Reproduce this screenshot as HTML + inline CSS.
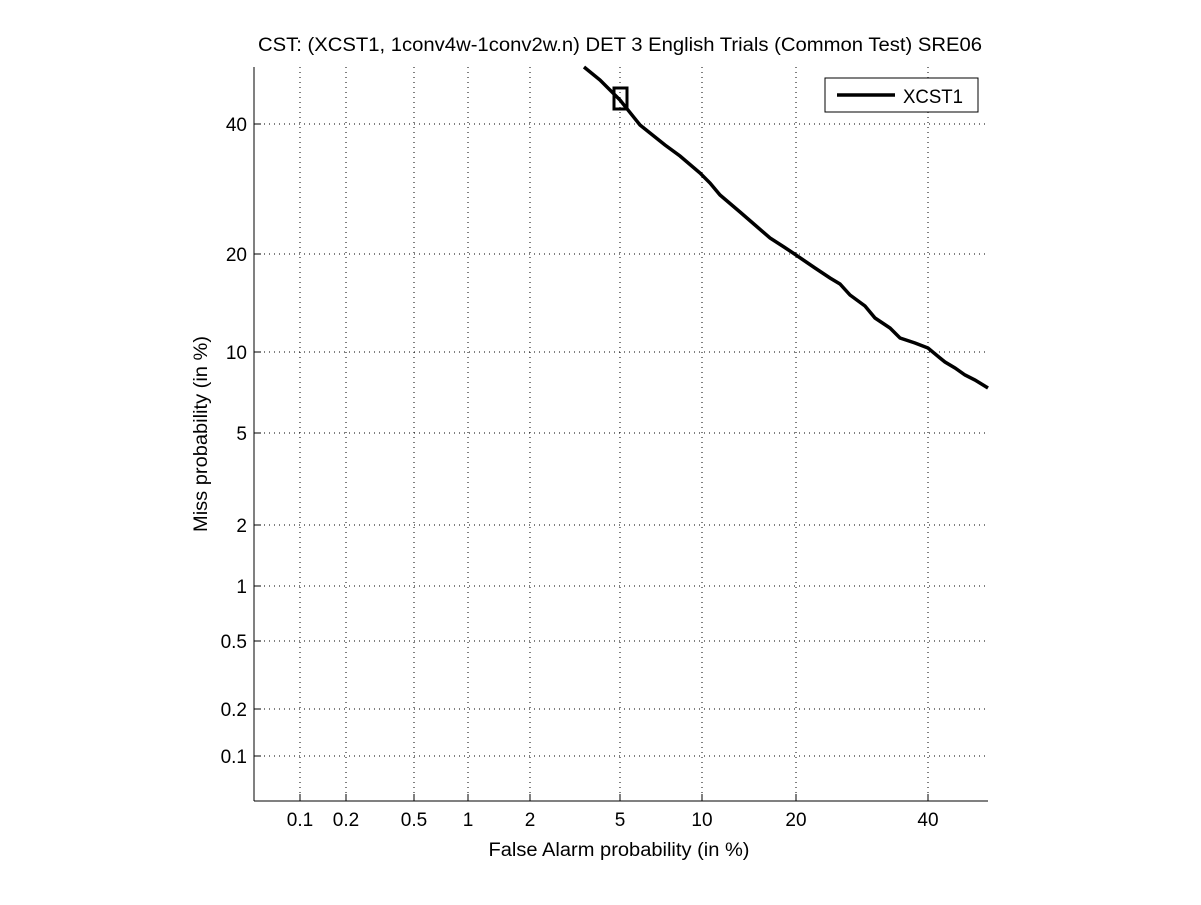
<!DOCTYPE html>
<html><head><style>body{margin:0;background:#fff}</style></head><body>
<svg width="1201" height="900" xmlns="http://www.w3.org/2000/svg" font-family="Liberation Sans, sans-serif" font-size="19">
<rect width="1201" height="900" fill="#fff"/>
<g stroke="#000" stroke-width="1" stroke-dasharray="1,4">
<line x1="300" y1="67" x2="300" y2="800"/><line x1="346" y1="67" x2="346" y2="800"/><line x1="414" y1="67" x2="414" y2="800"/><line x1="468" y1="67" x2="468" y2="800"/><line x1="530" y1="67" x2="530" y2="800"/><line x1="620" y1="67" x2="620" y2="800"/><line x1="702" y1="67" x2="702" y2="800"/><line x1="796" y1="67" x2="796" y2="800"/><line x1="928" y1="67" x2="928" y2="800"/>
<line x1="254" y1="124" x2="988" y2="124"/><line x1="254" y1="254" x2="988" y2="254"/><line x1="254" y1="352" x2="988" y2="352"/><line x1="254" y1="433" x2="988" y2="433"/><line x1="254" y1="525" x2="988" y2="525"/><line x1="254" y1="586" x2="988" y2="586"/><line x1="254" y1="641" x2="988" y2="641"/><line x1="254" y1="709" x2="988" y2="709"/><line x1="254" y1="756" x2="988" y2="756"/>
</g>
<g stroke="#000" stroke-width="1">
<line x1="254" y1="67" x2="254" y2="801"/><line x1="254" y1="801" x2="988" y2="801"/>
<path d="M300 801v-7M346 801v-7M414 801v-7M468 801v-7M530 801v-7M620 801v-7M702 801v-7M796 801v-7M928 801v-7M254 124h7M254 254h7M254 352h7M254 433h7M254 525h7M254 586h7M254 641h7M254 709h7M254 756h7"/>
</g>
<g text-anchor="middle">
<text x="300" y="826">0.1</text><text x="346" y="826">0.2</text><text x="414" y="826">0.5</text><text x="468" y="826">1</text><text x="530" y="826">2</text><text x="620" y="826">5</text><text x="702" y="826">10</text><text x="796" y="826">20</text><text x="928" y="826">40</text>
<text x="619" y="856" textLength="261" lengthAdjust="spacingAndGlyphs">False Alarm probability (in %)</text>
<text x="620" y="51" textLength="724" lengthAdjust="spacingAndGlyphs">CST: (XCST1, 1conv4w-1conv2w.n) DET 3 English Trials (Common Test) SRE06</text>
</g>
<g text-anchor="end">
<text x="247" y="131">40</text><text x="247" y="261">20</text><text x="247" y="359">10</text><text x="247" y="440">5</text><text x="247" y="532">2</text><text x="247" y="593">1</text><text x="247" y="648">0.5</text><text x="247" y="716">0.2</text><text x="247" y="763">0.1</text>
</g>
<text transform="translate(207,434) rotate(-90)" text-anchor="middle" textLength="196" lengthAdjust="spacingAndGlyphs">Miss probability (in %)</text>
<polyline fill="none" stroke="#000" stroke-width="3.5" points="584,67 600,80 620,100 640,125 650,133 665,145 680,156 700,173 710,183 720,195 740,212 755,225 770,238 784,247 796,255 815,268 830,278 840,284 850,295 865,306 875,318 890,328 900,338 915,343 928,348 940,358 945,362 955,368 965,375 975,380 988,388"/>
<rect x="614" y="88" width="13" height="21" fill="none" stroke="#000" stroke-width="3"/>
<rect x="825" y="78" width="153" height="34" fill="#fff" stroke="#000"/>
<line x1="837" y1="95" x2="895" y2="95" stroke="#000" stroke-width="3.5"/>
<text x="903" y="103" textLength="60" lengthAdjust="spacingAndGlyphs">XCST1</text>
</svg>
</body></html>
